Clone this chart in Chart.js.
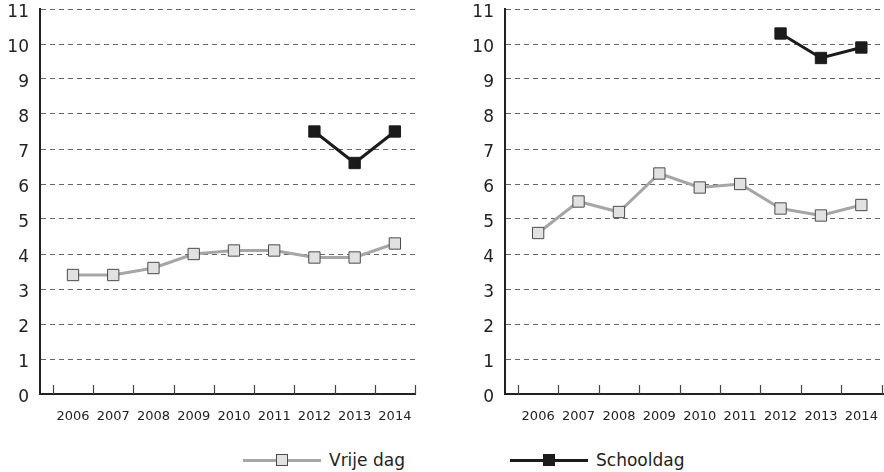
<!DOCTYPE html>
<html>
<head>
<meta charset="utf-8">
<script src="https://cdn.jsdelivr.net/npm/chart.js@4.4.1/dist/chart.umd.min.js"></script>
<style>
  body { margin: 0; background: #fff; font-family: "DejaVu Sans", sans-serif; }
  #wrap { position: relative; width: 884px; height: 472px; overflow: hidden; }
  .panel { position: absolute; top: 0; height: 430px; }
  .legend-item { position: absolute; top: 448px; height: 24px; display: flex; align-items: center; font-size: 17px; color: #222; }
  .legend-line { position: relative; width: 78px; height: 3px; margin-right: 8px; }
  .legend-mark { position: absolute; left: 33px; top: -5px; width: 12px; height: 12px; box-sizing: border-box; }
</style>
</head>
<body>
<div id="wrap">
  <div class="panel" style="left:0;width:440px"><canvas id="leftChart"></canvas></div>
  <div class="panel" style="left:440px;width:444px"><canvas id="rightChart"></canvas></div>
  <div class="legend-item" style="left:243px" id="legVrij"></div>
  <div class="legend-item" style="left:510px" id="legSchool"></div>
</div>
<script>
const years = [2006, 2007, 2008, 2009, 2010, 2011, 2012, 2013, 2014];

// left panel
const vrijeDagLeft = [3.4, 3.4, 3.6, 4.0, 4.1, 4.1, 3.9, 3.9, 4.3];
const schooldagLeft = [null, null, null, null, null, null, 7.5, 6.6, 7.5];

// right panel
const vrijeDagRight = [4.6, 5.5, 5.2, 6.3, 5.9, 6.0, 5.3, 5.1, 5.4];
const schooldagRight = [null, null, null, null, null, null, 10.3, 9.6, 9.9];

const yTicks = [0, 1, 2, 3, 4, 5, 6, 7, 8, 9, 10, 11];

const vrijeStyle = { label: "Vrije dag", line: "#a6a6a6", fill: "#e1e1e1", edge: "#4a4a4a" };
const schoolStyle = { label: "Schooldag", line: "#1b1b1b", fill: "#1b1b1b", edge: "#1b1b1b" };

function toPoints(values) {
  return years.map((y, i) => ({ x: y, y: values[i] }));
}

function dataset(style, values) {
  return {
    label: style.label,
    data: toPoints(values),
    borderColor: style.line,
    borderWidth: 3,
    pointStyle: "rect",
    pointRadius: 8,
    pointBorderWidth: 1,
    pointBackgroundColor: style.fill,
    pointBorderColor: style.edge,
    spanGaps: false,
    tension: 0,
  };
}

// small tick marks pointing up from the x axis, on the year boundaries
const boundaryTicks = {
  id: "boundaryTicks",
  afterDraw(chart) {
    const xs = chart.scales.x;
    const bottom = chart.chartArea.bottom;
    const c = chart.ctx;
    c.save();
    c.strokeStyle = "#444";
    c.lineWidth = 1.2;
    years.concat([years[years.length - 1] + 1]).forEach((yr) => {
      const px = Math.round(xs.getPixelForValue(yr - 0.5)) + 0.5;
      c.beginPath();
      c.moveTo(px, bottom);
      c.lineTo(px, bottom - 9);
      c.stroke();
    });
    c.restore();
  },
};

function makeChart(id, vrij, school, axisWidth, xMax, padRight) {
  return new Chart(document.getElementById(id), {
    type: "line",
    data: { datasets: [dataset(vrijeStyle, vrij), dataset(schoolStyle, school)] },
    options: {
      responsive: true,
      maintainAspectRatio: false,
      animation: false,
      layout: { autoPadding: false, padding: { top: 9, right: padRight, left: 0, bottom: 0 } },
      plugins: { legend: { display: false }, tooltip: { enabled: false } },
      scales: {
        x: {
          type: "linear",
          min: 2005.18,
          max: xMax,
          afterBuildTicks: (scale) => { scale.ticks = years.map((v) => ({ value: v })); },
          afterFit: (scale) => {
            scale.height = 36;
            scale.paddingLeft = 0;
            scale.paddingRight = 0;
          },
          grid: { display: false, drawTicks: false },
          border: { display: true, color: "#222", width: 2 },
          ticks: {
            autoSkip: false,
            maxRotation: 0,
            padding: 15,
            color: "#222",
            font: { family: "DejaVu Sans", size: 13 },
            callback: (v) => String(v),
          },
        },
        y: {
          min: 0,
          max: 11,
          afterBuildTicks: (scale) => { scale.ticks = yTicks.map((v) => ({ value: v })); },
          afterFit: (scale) => {
            scale.width = axisWidth;
            scale.paddingTop = 0;
            scale.paddingBottom = 0;
          },
          grid: {
            color: (ctx) => (ctx.tick && ctx.tick.value === 0 ? "rgba(0,0,0,0)" : "#666"),
            lineWidth: 1,
            drawTicks: false,
          },
          border: { display: true, color: "#222", width: 2, dash: [5, 4] },
          ticks: {
            padding: 11,
            labelOffset: 4,
            color: "#222",
            font: { family: "DejaVu Sans", size: 17 },
          },
        },
      },
    },
    plugins: [boundaryTicks],
  });
}

makeChart("leftChart", vrijeDagLeft, schooldagLeft, 40, 2014.5, 25);
makeChart("rightChart", vrijeDagRight, schooldagRight, 65, 2014.56, 0);

function legendItem(el, style) {
  const line = document.createElement("span");
  line.className = "legend-line";
  line.style.background = style.line;
  const mark = document.createElement("span");
  mark.className = "legend-mark";
  mark.style.background = style.fill;
  mark.style.border = "1px solid " + style.edge;
  line.appendChild(mark);
  const txt = document.createElement("span");
  txt.textContent = style.label;
  el.appendChild(line);
  el.appendChild(txt);
}
legendItem(document.getElementById("legVrij"), vrijeStyle);
legendItem(document.getElementById("legSchool"), schoolStyle);
</script>
</body>
</html>
